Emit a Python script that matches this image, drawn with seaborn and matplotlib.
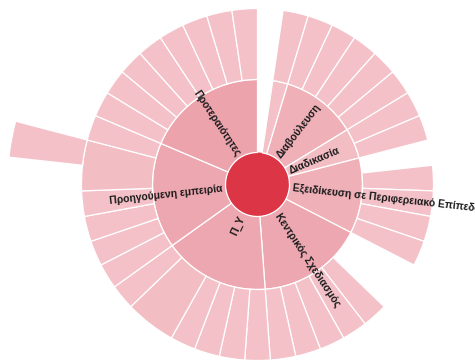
import numpy as np
import matplotlib
matplotlib.use("Agg")
import matplotlib.pyplot as plt
import seaborn as sns

# sunburst data (values in units)
root_value = 43
middle_names = ["", "Διαβούλευση", "Διαδικασία", "Εξειδίκευση σε Περιφερειακό Επίπεδο",
                "Κεντρικός Σχεδιασμός", "Π_Υ", "Προηγούμενη εμπειρία", "Προτεραιότητες"]
middle_values = [1, 5, 2, 5, 7, 7, 7, 8]
leaf_values = [
    [1],
    [1, 1, 1, 1, 1],
    [1, 1],
    [1, 1, 1, 1],
    [1, 1, 1, 1, 1],
    [1, 1, 1, 1, 2, 1],
    [1, 1, 1, 1, 2, 1],
    [1, 1, 1, 1, 1, 1, 1, 1],
]
deep_parent = (6, 4)   # Προηγούμενη εμπειρία -> 5th leaf
deep_values = [1]

sns.set_theme(style="white")
plt.rcParams['font.family'] = ['Liberation Sans', 'DejaVu Sans']

W, H = 475, 360
cx, cy = 257.5, H - 184.5
R = 260
rings = [0, 32, 105, 176, 250]

fig = plt.figure(figsize=(W / 100, H / 100), dpi=100)
ax = fig.add_axes([(cx - R) / W, (cy - R) / H, 2 * R / W, 2 * R / H], projection="polar")
ax.set_theta_zero_location("N")
ax.set_theta_direction(-1)
ax.set_ylim(0, R)
ax.set_axis_off()

shades = sns.blend_palette(["#f4c1c8", "#eca3ac"], n_colors=8)
unit = 2 * np.pi / root_value


def wedge(start, value, level, color=None):
    if color is None:
        color = shades[min(value, 8) - 1]
    ax.bar(start + value * unit / 2, rings[level + 1] - rings[level], width=value * unit,
           bottom=rings[level], color=color, edgecolor="white", linewidth=0.9)


# root
ax.bar(0, rings[1], width=2 * np.pi, bottom=0, color="#dc3545", linewidth=0)

# children are packed against the end of the parent, leaving gaps at the start
pos = 2 * np.pi - sum(middle_values) * unit
for i, (name, val) in enumerate(zip(middle_names, middle_values)):
    end = pos + val * unit
    wedge(pos, val, 1)
    lpos = end - sum(leaf_values[i]) * unit
    for j, lv in enumerate(leaf_values[i]):
        wedge(lpos, lv, 2)
        if (i, j) == deep_parent:
            dpos = lpos + (lv - sum(deep_values)) * unit
            for dv in deep_values:
                wedge(dpos, dv, 3)
                dpos += dv * unit
        lpos += lv * unit

    if name:
        mid = (pos + end) / 2
        deg = np.degrees(mid)
        if deg < 180:
            rot, ha = 90 - deg, "left"
        else:
            rot, ha = 270 - deg, "right"
        ax.text(mid, 35, name, rotation=rot, rotation_mode="anchor", ha=ha, va="center",
                fontsize=7.5, fontweight="bold", color="#1a1a1a", clip_on=False)
    pos = end

fig.savefig("out.png", dpi=100)
